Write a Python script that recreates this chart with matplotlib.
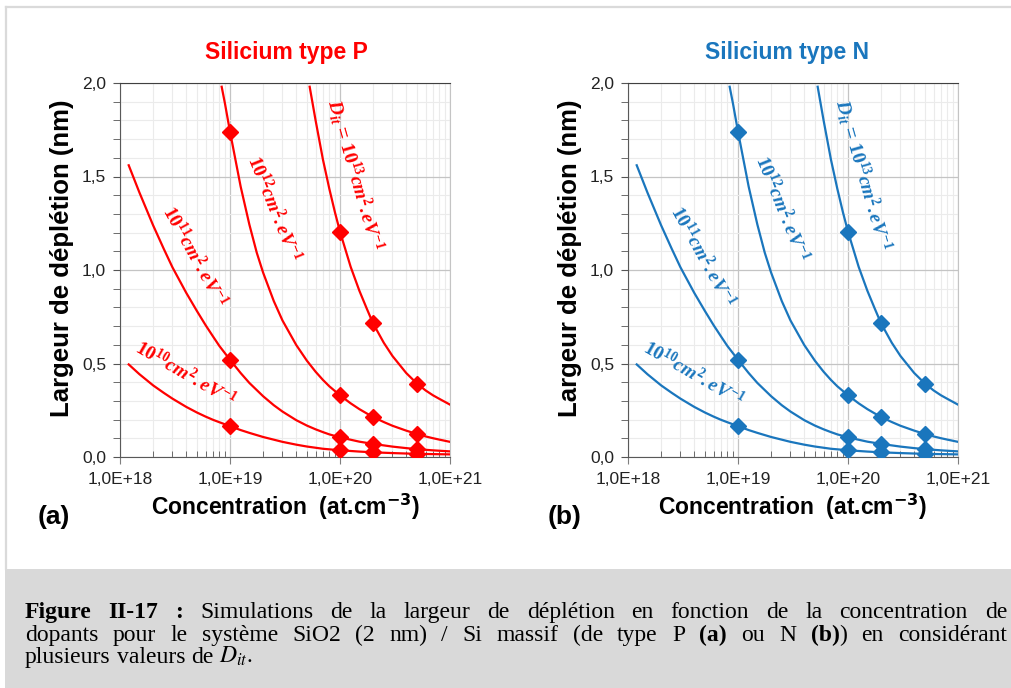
import numpy as np
import matplotlib
matplotlib.use("Agg")
import matplotlib.pyplot as plt
from matplotlib.lines import Line2D
from matplotlib.patches import Rectangle
from matplotlib.ticker import FixedLocator, FuncFormatter, LogLocator, MultipleLocator, NullFormatter

plt.rcParams['font.family'] = ['Liberation Sans', 'DejaVu Sans']
plt.rcParams['mathtext.fontset'] = 'custom'
plt.rcParams['mathtext.rm'] = 'Liberation Serif:bold'
plt.rcParams['mathtext.it'] = 'Liberation Serif:italic:bold'
plt.rcParams['mathtext.bf'] = 'Liberation Serif:bold'

W, H = 1011, 688

# depletion width (nm) vs doping concentration (at.cm-3)
n_1e10 = [1.2e18, 1.5e18, 2e18, 2.5e18, 3e18, 4e18, 5e18, 6e18, 7e18, 8e18, 1e19, 1.25e19, 1.5e19,
          2e19, 3e19, 4e19, 5e19, 7e19, 1e20, 1.5e20, 2e20, 3e20, 4e20, 5e20, 7e20, 1e21]
w_1e10 = [0.495, 0.443, 0.383, 0.343, 0.312, 0.268, 0.238, 0.216, 0.199, 0.186, 0.165, 0.144, 0.129,
          0.107, 0.081, 0.066, 0.056, 0.044, 0.036, 0.029, 0.025, 0.021, 0.0186, 0.017, 0.0154, 0.014]

n_1e11 = [1.2e18, 1.5e18, 2e18, 2.5e18, 3e18, 4e18, 5e18, 6e18, 7e18, 8e18, 1e19, 1.25e19, 1.5e19,
          2e19, 2.5e19, 3e19, 4e19, 5e19, 6e19, 7e19, 8e19, 1e20, 1.5e20, 2e20, 3e20, 4e20, 5e20,
          7e20, 1e21]
w_1e11 = [1.56, 1.415, 1.239, 1.113, 1.014, 0.878, 0.781, 0.705, 0.645, 0.594, 0.52, 0.449, 0.396,
          0.325, 0.277, 0.243, 0.197, 0.168, 0.148, 0.133, 0.121, 0.105, 0.082, 0.07, 0.0556, 0.0475,
          0.042, 0.0356, 0.03]

n_1e12 = [8.4e18, 9e18, 1e19, 1.25e19, 1.5e19, 1.75e19, 2e19, 2.5e19, 3e19, 4e19, 5e19, 6e19, 7e19,
          8e19, 1e20, 1.25e20, 1.5e20, 1.75e20, 2e20, 2.5e20, 3e20, 4e20, 5e20, 6e20, 7e20, 8e20, 1e21]
w_1e12 = [1.98, 1.89, 1.74, 1.446, 1.243, 1.093, 0.986, 0.834, 0.730, 0.599, 0.515, 0.456, 0.412,
          0.378, 0.33, 0.287, 0.256, 0.233, 0.214, 0.187, 0.167, 0.141, 0.123, 0.110, 0.1005, 0.093,
          0.081]

n_1e13 = [5.3e19, 6e19, 7e19, 8e19, 9e19, 1e20, 1.25e20, 1.5e20, 1.75e20, 2e20, 2.5e20, 3e20, 4e20,
          5e20, 6e20, 7e20, 8e20, 1e21]
w_1e13 = [1.98, 1.80, 1.59, 1.434, 1.308, 1.205, 1.017, 0.889, 0.794, 0.714, 0.611, 0.540, 0.449,
          0.393, 0.356, 0.330, 0.311, 0.28]

# simulated points (diamonds)
marker_n = [1e19, 1e20, 2e20, 5e20]
mk_1e10 = [0.165, 0.036, 0.025, 0.017]
mk_1e11 = [0.52, 0.105, 0.07, 0.042]
mk_1e12 = [1.74, 0.33, 0.214, 0.123]
mk_1e13 = [np.nan, 1.205, 0.714, 0.393]

curves = [(n_1e10, w_1e10), (n_1e11, w_1e11), (n_1e12, w_1e12), (n_1e13, w_1e13)]
markers = [mk_1e10, mk_1e11, mk_1e12, mk_1e13]

# curve labels: text, x/y in axes fraction, rotation
curve_labels = [
    (r"$10^{10}cm^{2}.eV^{-1}$", 0.197, 0.222, -30),
    (r"$10^{11}cm^{2}.eV^{-1}$", 0.226, 0.537, -61),
    (r"$10^{12}cm^{2}.eV^{-1}$", 0.466, 0.664, -68),
    (r"$D_{it}$ = $10^{13}cm^{2}.eV^{-1}$", 0.712, 0.755, -74),
]

panels = [
    # axes left px, colour, title, title centre px, letter, letter px, ylabel px, xlabel px
    (120, "#FF0000", "Silicium type P", 286, "(a)", 38, 62, 286),
    (628, "#1A76BD", "Silicium type N", 787, "(b)", 548, 570, 793),
]

caption = [
    "**Figure II-17 :** Simulations de la largeur de déplétion en fonction de la concentration de",
    "dopants pour le système SiO2 (2 nm) / Si massif (de type P **(a)** ou N **(b)**) en considérant",
    "plusieurs valeurs de $D_{it}$.",
]


def fx(px):
    return px / W


def fy(py):
    return 1 - py / H


fig = plt.figure(figsize=(W / 100, H / 100), dpi=100)
fig.patch.set_facecolor("white")

# frame and caption box
fig.add_artist(Rectangle((fx(5), 0), 1, 119 / H, transform=fig.transFigure,
                         facecolor="#D9D9D9", edgecolor="none", zorder=0))
fig.add_artist(Line2D([fx(6), 1], [fy(7), fy(7)], transform=fig.transFigure, color="#DADADA", lw=1.6))
fig.add_artist(Line2D([fx(6), fx(6)], [fy(7), fy(569)], transform=fig.transFigure, color="#DADADA", lw=1.6))

xfmt = FuncFormatter(lambda v, p: ("%.1E" % v).replace(".", ","))
yfmt = FuncFormatter(lambda v, p: ("%.1f" % v).replace(".", ","))

for left, color, title, tx, letter, lx, ylx, xlx in panels:
    ax = fig.add_axes([fx(left), fy(457), 330 / W, 374 / H])
    for n, w in curves:
        ax.plot(n, w, color=color, lw=1.6, zorder=3, solid_joinstyle="round")
    for mk in markers:
        ax.plot(marker_n, mk, ls="none", marker="D", ms=8, color=color, zorder=4)
    ax.set_xscale("log")
    ax.set_xlim(1e18, 1e21)
    ax.set_ylim(0, 2)
    ax.xaxis.set_major_locator(FixedLocator([1e18, 1e19, 1e20, 1e21]))
    ax.xaxis.set_minor_locator(LogLocator(base=10, subs=np.arange(2, 10)))
    ax.xaxis.set_minor_formatter(NullFormatter())
    ax.xaxis.set_major_formatter(xfmt)
    ax.yaxis.set_major_locator(MultipleLocator(0.5))
    ax.yaxis.set_minor_locator(MultipleLocator(0.1))
    ax.yaxis.set_major_formatter(yfmt)
    ax.grid(which="major", color="#C4C4C4", lw=0.9)
    ax.grid(which="minor", color="#EBEBEB", lw=0.8)
    ax.set_axisbelow(True)
    ax.tick_params(axis="both", which="major", labelsize=12.5, colors="#222222")
    ax.tick_params(axis="x", which="major", direction="out", length=5, pad=6, color="#7F7F7F")
    ax.tick_params(axis="x", which="minor", direction="in", length=4, color="#555555")
    ax.tick_params(axis="y", which="both", direction="out", length=5, pad=5, color="#555555")
    for s in ["left", "bottom"]:
        ax.spines[s].set_color("#595959")
    ax.spines["top"].set_color("#404040")
    ax.spines["right"].set_color("#C4C4C4")

    for txt, x, y, rot in curve_labels:
        ax.text(x, y, txt, transform=ax.transAxes, color=color, fontsize=14,
                rotation=rot, rotation_mode="anchor", ha="center", va="center", zorder=5)

    fig.text(fx(tx), fy(52), title, color=color, fontsize=16.5, fontweight="bold",
             ha="center", va="center")
    fig.text(fx(lx), fy(517), letter, fontsize=19, fontweight="bold", ha="left", va="center")
    fig.text(fx(ylx), fy(258), "Largeur de déplétion (nm)", rotation=90, fontsize=18.5,
             fontweight="bold", ha="center", va="center")
    fig.text(fx(xlx), fy(507), r"Concentration  (at.cm$^{\mathbf{-3}}$)", fontsize=16.5,
             fontweight="bold", ha="center", va="center", math_fontfamily="dejavusans")

# caption, justified like the original text block
renderer = fig.canvas.get_renderer()
cap_x0, cap_x1 = 25, 1007
cap_base = [618, 641, 663]
cap_size = 17


def parse(line):
    words = []
    bold = False
    for raw in line.split(" "):
        segs = []
        for i, part in enumerate(raw.split("**")):
            if i > 0:
                bold = not bold
            if part:
                segs.append((part, bold))
        words.append(segs)
    return words


for row, (line, yb) in enumerate(zip(caption, cap_base)):
    words = parse(line)
    items = []
    widths = []
    for segs in words:
        wt = []
        wsum = 0
        for txt, b in segs:
            t = fig.text(0, fy(yb), txt, fontsize=cap_size, family="Liberation Serif",
                         fontweight="bold" if b else "normal", va="baseline", ha="left",
                         math_fontfamily="stix")
            wpx = t.get_window_extent(renderer).width
            wt.append((t, wpx))
            wsum += wpx
        items.append(wt)
        widths.append(wsum)
    if row < len(caption) - 1:
        gap = (cap_x1 - cap_x0 - sum(widths)) / (len(words) - 1)
    else:
        gap = cap_size * 100 / 72 * 0.25
    x = cap_x0
    for wt, wsum in zip(items, widths):
        xx = x
        for t, wpx in wt:
            t.set_x(fx(xx))
            xx += wpx
        x += wsum + gap

fig.savefig("out.png", dpi=100)
